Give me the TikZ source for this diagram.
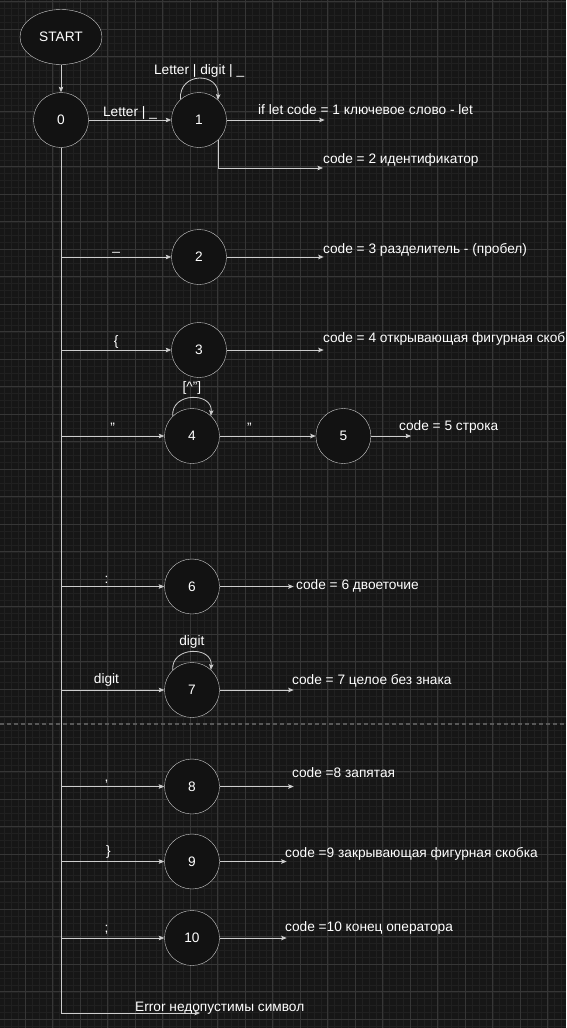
\documentclass[tikz,border=0pt]{standalone}
\usepackage{fontspec}
\setmainfont{Liberation Sans}
\usetikzlibrary{calc,arrows.meta,positioning,shapes.geometric}

\definecolor{bg}{RGB}{22,22,22}
\definecolor{gridminor}{RGB}{32,32,32}
\definecolor{gridmajor}{RGB}{54,54,54}
\definecolor{wire}{RGB}{205,205,205}
\definecolor{statefill}{RGB}{18,18,18}
\definecolor{pagebreak}{RGB}{88,88,88}

\begin{document}
\begin{tikzpicture}[x=1pt,y=-1pt,>={Stealth[length=5.5pt,width=4.5pt,inset=1pt]},
  font=\fontsize{13.7}{16}\selectfont,
  state/.style={circle,draw=wire,fill=statefill,minimum size=55pt,inner sep=0pt,text=white},
  startnode/.style={ellipse,draw=wire,fill=statefill,minimum width=82pt,minimum height=55pt,inner sep=0pt,text=white},
  lbl/.style={text=white,inner sep=0pt,anchor=west},
  tag/.style={text=white,inner sep=0pt},
  edge/.style={->,draw=wire,line width=.8pt}]

  \useasboundingbox (0,0) rectangle (566,1028);
  \clip (0,0) rectangle (566,1028);
  \fill[bg] (0,0) rectangle (566,1028);

  % grid
  \foreach \k in {0,...,82}
    \draw[gridminor,line width=.6pt] ({4.675+6.875*\k},0) -- ++(0,1028);
  \foreach \k in {0,...,150}
    \draw[gridminor,line width=.6pt] (0,{1.8+6.875*\k}) -- ++(566,0);
  \foreach \k in {0,...,20}
    \draw[gridmajor,line width=.7pt] ({25.3+27.5*\k},0) -- ++(0,1028);
  \foreach \k in {0,...,37}
    \draw[gridmajor,line width=.7pt] (0,{1.8+27.5*\k}) -- ++(566,0);
  \draw[pagebreak,line width=2pt,dash pattern=on 4pt off 3pt] (0,724) -- (566,724);

  % states
  \node[startnode] (start) at (61,37) {START};
  \node[state] (0) at (61,120) {0};
  \node[state] (1) at (199,120) {1};
  \node[state] (2) at (199,257) {2};
  \node[state] (3) at (199,350) {3};
  \node[state] (4) at (192,436) {4};
  \node[state] (5) [right=96pt of 4] {5};
  \node[state] (6) at (192,586.5) {6};
  \node[state] (7) at (192,690) {7};
  \node[state] (8) at (192,786.5) {8};
  \node[state] (9) at (192,861.5) {9};
  \node[state] (10) at (192,938) {10};

  % results
  \node[lbl] (c1) at (258,110) {if let code = 1 ключевое слово - let};
  \node[lbl] (c2) at (323,160) {code = 2 идентификатор};
  \node[lbl] (c3) at (323,250) {code = 3 разделитель - (пробел)};
  \node[lbl] (c4) at (323,339) {code = 4 открывающая фигурная скобка};
  \node[lbl] (c5) at (399,427) {code = 5 строка};
  \node[lbl] (c6) at (296,586) {code = 6 двоеточие};
  \node[lbl] (c7) at (292,681) {code = 7 целое без знака};
  \node[lbl] (c8) at (292,773) {code =8 запятая};
  \node[lbl] (c9) at (285,854) {code =9 закрывающая фигурная скобка};
  \node[lbl] (c10) at (285,928) {code =10 конец оператора};
  \node[lbl] (cerr) at (135,1008) {Error недопустимы символ};

  \coordinate (e1) at ($(1.east)+(98,0)$);
  \coordinate (e2) at (323,168);
  \coordinate (e3) at ($(2.east)+(97,0)$);
  \coordinate (e4) at ($(3.east)+(97,0)$);
  \coordinate (e5) at ($(5.east)+(40,0)$);
  \coordinate (e6) at ($(6.east)+(74,0)$);
  \coordinate (e7) at ($(7.east)+(74,0)$);
  \coordinate (e8) at ($(8.east)+(74,0)$);
  \coordinate (e9) at ($(9.east)+(67,0)$);
  \coordinate (e10) at ($(10.east)+(67,0)$);
  \coordinate (eerr) at (200,1013);

  \path[every node/.style={tag}]
    (start) edge[edge] (0)
    (0) edge[edge] node[midway,above=0pt] {Letter | \_} (1)
    (1) edge[edge] (e1)
    (2) edge[edge] (e3)
    (3) edge[edge] (e4)
    (4) edge[edge] node[pos=.31,above=3pt] {"} (5)
    (5) edge[edge] (e5)
    (6) edge[edge] (e6)
    (7) edge[edge] (e7)
    (8) edge[edge] (e8)
    (9) edge[edge] (e9)
    (10) edge[edge] (e10);
  \draw[edge] (1.-46) |- (e2);

  % loops
  \draw[edge] (1.132) .. controls +(-2,-28) and +(2,-28) .. (1.47)
    node[tag,pos=.5,above=1pt] {Letter | digit | \_};
  \draw[edge] (4.134) .. controls +(-2,-24) and +(2,-24) .. (4.47)
    node[tag,pos=.5,above=3pt] {[\textasciicircum"]};
  \draw[edge] (7.134) .. controls +(-2,-24) and +(2,-24) .. (7.47)
    node[tag,pos=.5,above=3pt] {digit};

  % branches from state 0
  \draw[edge] (0) |- node[tag,pos=.75,above=3pt] {\_} (2);
  \draw[edge] (0) |- node[tag,pos=.75,above=1pt] {\{} (3);
  \draw[edge] (0) |- node[tag,pos=.75,above=3pt] {"} (4);
  \draw[edge] (0) |- node[tag,pos=.72,above=3pt] {:} (6);
  \draw[edge] (0) |- node[tag,pos=.72,above=3pt] {digit} (7);
  \draw[edge] (0) |- node[tag,pos=.72,above=3pt] {,} (8);
  \draw[edge] (0) |- node[tag,pos=.73,above=3pt] {\}} (9);
  \draw[edge] (0) |- node[tag,pos=.72,above=3pt] {;} (10);
  \draw[edge] (0) |- (eerr);

\end{tikzpicture}
\end{document}
